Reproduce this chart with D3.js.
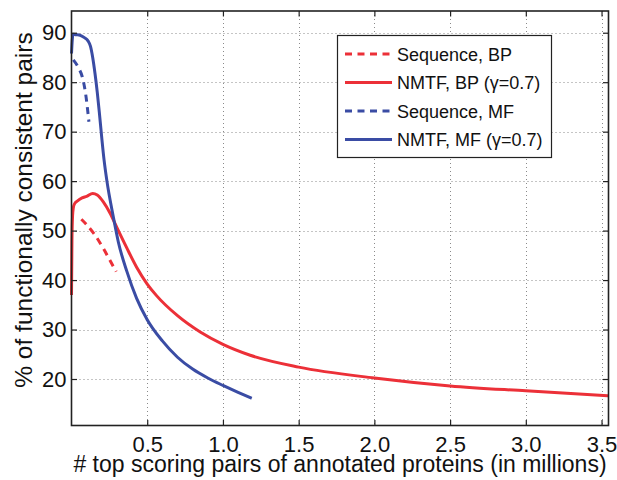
<!DOCTYPE html>
<html>
<head>
<meta charset="utf-8">
<script src="https://cdn.jsdelivr.net/npm/d3@7"></script>
<style>
  body { margin: 0; background: #fff; }
  svg text { font-family: "Liberation Sans", Arial, Helvetica, sans-serif; fill: #111; }
</style>
</head>
<body>
<svg id="chart" width="617" height="480"></svg>
<script>
// values (x in millions of pairs, y in %)
var xTicks = [0.5, 1.0, 1.5, 2.0, 2.5, 3.0, 3.5];
var yTicks = [20, 30, 40, 50, 60, 70, 80, 90];

var seqBP_x = [0.065, 0.1, 0.155, 0.21, 0.25, 0.295];
var seqBP_y = [52.3, 51.2, 49.1, 46.4, 44.2, 41.7];

var nmtfBP_x = [0.0, 0.003, 0.007, 0.012, 0.02, 0.04, 0.07, 0.1, 0.14, 0.17, 0.21, 0.255, 0.3, 0.365, 0.43, 0.5, 0.56, 0.7, 0.85, 1.0, 1.18, 1.5, 2.0, 2.5, 3.0, 3.546];
var nmtfBP_y = [37.0, 48.0, 53.0, 54.6, 55.4, 56.0, 56.6, 56.9, 57.5, 57.2, 55.8, 53.5, 50.6, 46.5, 42.6, 39.2, 36.9, 32.8, 29.5, 27.0, 24.8, 22.4, 20.2, 18.6, 17.6, 16.6];

var seqMF_x = [0.012, 0.048, 0.071, 0.093, 0.115];
var seqMF_y = [84.5, 82.8, 81.1, 77.7, 72.0];

var nmtfMF_x = [0.0, 0.01, 0.03, 0.056, 0.085, 0.11, 0.125, 0.14, 0.155, 0.17, 0.185, 0.2, 0.215, 0.233, 0.276, 0.31, 0.365, 0.43, 0.5, 0.6, 0.7, 0.8, 0.9, 1.0, 1.1, 1.19];
var nmtfMF_y = [85.8, 89.7, 89.6, 89.5, 89.0, 88.3, 87.3, 85.0, 81.8, 78.0, 73.5, 68.7, 64.3, 60.2, 52.8, 47.6, 41.8, 36.3, 32.0, 27.7, 24.4, 22.0, 20.2, 18.7, 17.3, 16.1];

var legendLabels = ["Sequence, BP", "NMTF, BP (\u03b3=0.7)", "Sequence, MF", "NMTF, MF (\u03b3=0.7)"];

var red = "#ec3038",
    blue = "#3a4ca4";

var series = [
    {xs: seqBP_x,  ys: seqBP_y,  color: red,  dash: "7,5.5"},
    {xs: nmtfBP_x, ys: nmtfBP_y, color: red,  dash: null},
    {xs: seqMF_x,  ys: seqMF_y,  color: blue, dash: "7,5.5"},
    {xs: nmtfMF_x, ys: nmtfMF_y, color: blue, dash: null}
];

// plot box (note: "top" is taken by window.top)
var pLeft = 71.5, pRight = 608.5, pTop = 11, pBottom = 425.5;

var x = d3.scaleLinear().domain([0, 3.546]).range([pLeft, pRight]);
var y = d3.scaleLinear().domain([10.6, 94.39]).range([pBottom, pTop]);

var svg = d3.select("#chart");

// dotted grid
var grid = svg.append("g").attr("stroke", "#8a8a8a").attr("stroke-width", 1).attr("stroke-dasharray", "1,3");
grid.selectAll("line.gx").data(xTicks).enter().append("line")
    .attr("x1", function(d){ return Math.round(x(d)) + 0.5; })
    .attr("x2", function(d){ return Math.round(x(d)) + 0.5; })
    .attr("y1", pTop).attr("y2", pBottom);
grid.selectAll("line.gy").data(yTicks).enter().append("line")
    .attr("y1", function(d){ return Math.round(y(d)) + 0.5; })
    .attr("y2", function(d){ return Math.round(y(d)) + 0.5; })
    .attr("x1", pLeft).attr("x2", pRight);

// curves
var line = d3.line()
    .x(function(d){ return x(d[0]); })
    .y(function(d){ return y(d[1]); })
    .curve(d3.curveMonotoneX);

series.forEach(function(s){
    var pts = s.xs.map(function(v, i){ return [v, s.ys[i]]; });
    svg.append("path")
        .attr("d", line(pts))
        .attr("fill", "none")
        .attr("stroke", s.color)
        .attr("stroke-width", 3)
        .attr("stroke-dasharray", s.dash);
});

// axes, matlab style: ticks inside on all four sides
var tl = 5.5;
var axisBottom = d3.axisBottom(x).tickValues(xTicks).tickSizeInner(-tl).tickSizeOuter(0).tickPadding(11)
    .tickFormat(d3.format(".1f"));
var axisTop = d3.axisTop(x).tickValues(xTicks).tickSizeInner(-tl).tickSizeOuter(0).tickFormat("");
var axisLeft = d3.axisLeft(y).tickValues(yTicks).tickSizeInner(-tl).tickSizeOuter(0).tickPadding(5)
    .tickFormat(d3.format("d"));
var axisRight = d3.axisRight(y).tickValues(yTicks).tickSizeInner(-tl).tickSizeOuter(0).tickFormat("");

svg.append("g").attr("transform", "translate(0," + pBottom + ")").call(axisBottom);
svg.append("g").attr("transform", "translate(0," + pTop + ")").call(axisTop);
svg.append("g").attr("transform", "translate(" + pLeft + ",0)").call(axisLeft);
svg.append("g").attr("transform", "translate(" + pRight + ",0)").call(axisRight);

svg.selectAll(".domain").remove();
svg.selectAll(".tick line").attr("stroke", "#222").attr("stroke-width", 1.2);
svg.selectAll(".tick text").attr("font-size", 22).style("font-family", "Liberation Sans, Arial, sans-serif").attr("fill", "#111");

svg.append("rect")
    .attr("x", pLeft).attr("y", pTop)
    .attr("width", pRight - pLeft).attr("height", pBottom - pTop)
    .attr("fill", "none").attr("stroke", "#222").attr("stroke-width", 1.6);

// axis labels
svg.append("text")
    .attr("x", 340).attr("y", 472)
    .attr("text-anchor", "middle")
    .attr("font-size", 23)
    .text("# top scoring pairs of annotated proteins (in millions)");

svg.append("text")
    .attr("transform", "translate(31.5,210) rotate(-90)")
    .attr("text-anchor", "middle")
    .attr("font-size", 24.5)
    .text("% of functionally consistent pairs");

// legend
var legend = svg.append("g");
legend.append("rect")
    .attr("x", 337.5).attr("y", 35.5)
    .attr("width", 214).attr("height", 122)
    .attr("fill", "#fff").attr("stroke", "#222").attr("stroke-width", 1.2);

var rowY = d3.scalePoint().domain(d3.range(legendLabels.length)).range([54, 139.5]);
legendLabels.forEach(function(lab, i){
    var s = series[i];
    legend.append("line")
        .attr("x1", 345).attr("x2", 392)
        .attr("y1", rowY(i)).attr("y2", rowY(i))
        .attr("stroke", s.color).attr("stroke-width", 3)
        .attr("stroke-dasharray", s.dash);
    legend.append("text")
        .attr("x", 397).attr("y", rowY(i) + 6.5)
        .attr("font-size", 18)
        .text(lab);
});
</script>
</body>
</html>
